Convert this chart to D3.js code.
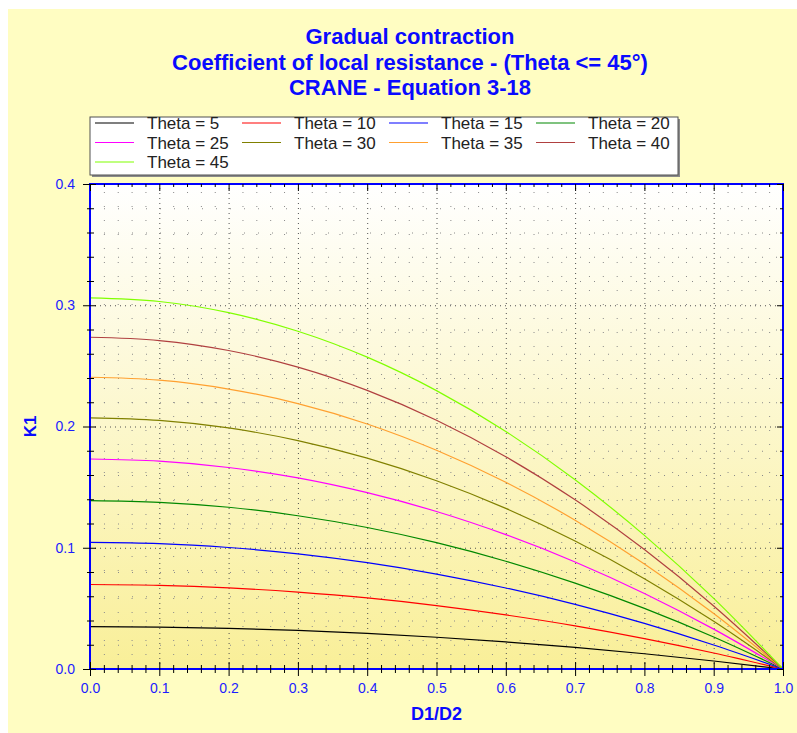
<!DOCTYPE html>
<html>
<head>
<meta charset="utf-8">
<script src="https://cdn.jsdelivr.net/npm/d3@7"></script>
<style>
  body { margin: 0; background: #ffffff; }
  text { font-family: Arial, "Liberation Sans", sans-serif; }
</style>
</head>
<body>
<div id="chart"></div>
<script>
// Chart data: K1 at D1/D2 = 0.0, 0.1, ... 1.0
const dRatio = [0.0, 0.1, 0.2, 0.3, 0.4, 0.5, 0.6, 0.7, 0.8, 0.9, 1.0];
const seriesNames = ["Theta = 5", "Theta = 10", "Theta = 15", "Theta = 20", "Theta = 25",
                     "Theta = 30", "Theta = 35", "Theta = 40", "Theta = 45"];
const k1Theta5  = [0.0349, 0.0345, 0.0335, 0.0318, 0.0293, 0.0262, 0.0223, 0.0178, 0.0126, 0.0066, 0];
const k1Theta10 = [0.0697, 0.0690, 0.0669, 0.0634, 0.0586, 0.0523, 0.0446, 0.0356, 0.0251, 0.0132, 0];
const k1Theta15 = [0.1044, 0.1034, 0.1002, 0.0950, 0.0877, 0.0783, 0.0668, 0.0533, 0.0376, 0.0198, 0];
const k1Theta20 = [0.1389, 0.1375, 0.1334, 0.1264, 0.1167, 0.1042, 0.0889, 0.0708, 0.0500, 0.0264, 0];
const k1Theta25 = [0.1732, 0.1714, 0.1662, 0.1576, 0.1454, 0.1299, 0.1108, 0.0883, 0.0623, 0.0329, 0];
const k1Theta30 = [0.2071, 0.2050, 0.1988, 0.1884, 0.1739, 0.1553, 0.1325, 0.1056, 0.0745, 0.0393, 0];
const k1Theta35 = [0.2406, 0.2382, 0.2309, 0.2189, 0.2021, 0.1804, 0.1540, 0.1227, 0.0866, 0.0457, 0];
const k1Theta40 = [0.2736, 0.2709, 0.2627, 0.2490, 0.2298, 0.2052, 0.1751, 0.1395, 0.0985, 0.0520, 0];
const k1Theta45 = [0.3061, 0.3031, 0.2939, 0.2786, 0.2572, 0.2296, 0.1959, 0.1561, 0.1102, 0.0582, 0];
const seriesValues = [k1Theta5, k1Theta10, k1Theta15, k1Theta20, k1Theta25,
                      k1Theta30, k1Theta35, k1Theta40, k1Theta45];
const seriesColors = ["#000000", "#ff0000", "#0000ff", "#008800", "#ff00ff",
                      "#808000", "#ffa030", "#b04040", "#80ff00"];
const xTicks = [0, 0.1, 0.2, 0.3, 0.4, 0.5, 0.6, 0.7, 0.8, 0.9, 1.0];
const yTicks = [0, 0.1, 0.2, 0.3, 0.4];
const titleLines = ["Gradual contraction",
                    "Coefficient of local resistance - (Theta <= 45\u00b0)",
                    "CRANE - Equation 3-18"];

function drawChart() {
    const W = 797, H = 733;
    const plot = {left: 90, right: 783, top: 184, bottom: 669};
    const pw = plot.right - plot.left, ph = plot.bottom - plot.top;

    const svg = d3.select("#chart").append("svg")
        .attr("width", W).attr("height", H);

    // Panel background
    svg.append("rect").attr("x", 8).attr("y", 9)
        .attr("width", W - 8).attr("height", H - 9)
        .attr("fill", "#fffdc2");

    const defs = svg.append("defs");
    const grad = defs.append("linearGradient").attr("id", "plotBg")
        .attr("x1", 0).attr("y1", 0).attr("x2", 0).attr("y2", 1);
    grad.append("stop").attr("offset", "0%").attr("stop-color", "#ffffff");
    grad.append("stop").attr("offset", "100%").attr("stop-color", "#f9ef98");

    // Title
    svg.append("g").selectAll("text")
        .data(titleLines)
        .enter().append("text")
        .attr("x", 410)
        .attr("y", (d, i) => 44 + i * 25.5)
        .attr("text-anchor", "middle")
        .attr("fill", "#0a0aff")
        .style("font-size", "22px")
        .style("font-weight", "bold")
        .text(d => d);

    const x = d3.scaleLinear().domain([0, 1]).range([plot.left, plot.right]);
    const y = d3.scaleLinear().domain([0, 0.4]).range([plot.bottom, plot.top]);

    const xMinor = d3.range(0, 1.0001, 0.02).filter(v => Math.abs(v * 10 - Math.round(v * 10)) > 1e-6);
    const yMinor = d3.range(0, 0.4001, 0.02).filter(v => Math.abs(v * 10 - Math.round(v * 10)) > 1e-6);

    const g = svg.append("g");

    g.append("rect")
        .attr("x", plot.left).attr("y", plot.top)
        .attr("width", pw).attr("height", ph)
        .attr("fill", "url(#plotBg)");

    // Minor grid (sparse dots)
    const minorGridX = g.append("g")
        .attr("transform", `translate(0,${plot.bottom})`)
        .call(d3.axisBottom(x).tickValues(xMinor).tickSize(-ph).tickFormat(""));
    const minorGridY = g.append("g")
        .attr("transform", `translate(${plot.left},0)`)
        .call(d3.axisLeft(y).tickValues(yMinor).tickSize(-pw).tickFormat(""));
    [minorGridX, minorGridY].forEach(s => {
        s.select(".domain").remove();
        s.selectAll("line").attr("stroke", "#8a8a8a").attr("stroke-dasharray", "1,13");
    });

    // Major grid (dotted)
    const majorGridX = g.append("g")
        .attr("transform", `translate(0,${plot.bottom})`)
        .call(d3.axisBottom(x).tickValues(xTicks).tickSize(-ph).tickFormat(""));
    const majorGridY = g.append("g")
        .attr("transform", `translate(${plot.left},0)`)
        .call(d3.axisLeft(y).tickValues(yTicks).tickSize(-pw).tickFormat(""));
    [majorGridX, majorGridY].forEach(s => {
        s.select(".domain").remove();
        s.selectAll("line").attr("stroke", "#505050").attr("stroke-dasharray", "1,4");
    });

    // Curves
    const line = d3.line()
        .x((d, i) => x(dRatio[i]))
        .y(d => y(d))
        .curve(d3.curveMonotoneX);

    g.append("g").selectAll("path")
        .data(seriesValues)
        .enter().append("path")
        .attr("d", d => line(d))
        .attr("fill", "none")
        .attr("stroke", (d, i) => seriesColors[i])
        .attr("stroke-width", 1.2);

    // Plot frame
    g.append("rect")
        .attr("x", plot.left).attr("y", plot.top)
        .attr("width", pw).attr("height", ph)
        .attr("fill", "none")
        .attr("stroke", "#0000ff")
        .attr("stroke-width", 2);

    // Axis ticks helper
    function ticks(axis, pos, horizontal) {
        const sel = g.append("g")
            .attr("transform", horizontal ? `translate(0,${pos})` : `translate(${pos},0)`)
            .call(axis);
        sel.select(".domain").remove();
        sel.selectAll("line").attr("stroke", "#000000").attr("stroke-width", 1);
        return sel;
    }
    const noLabel = "";

    // Bottom axis
    const xAxis = ticks(d3.axisBottom(x).tickValues(xTicks).tickSize(7).tickPadding(7)
        .tickFormat(d3.format(".1f")), plot.bottom, true);
    ticks(d3.axisTop(x).tickValues(xTicks).tickSize(7).tickFormat(noLabel), plot.bottom, true);
    ticks(d3.axisBottom(x).tickValues(xMinor).tickSize(4).tickFormat(noLabel), plot.bottom, true);
    ticks(d3.axisTop(x).tickValues(xMinor).tickSize(4).tickFormat(noLabel), plot.bottom, true);
    // Top axis (inward)
    ticks(d3.axisBottom(x).tickValues(xTicks).tickSize(7).tickFormat(noLabel), plot.top, true);
    ticks(d3.axisBottom(x).tickValues(xMinor).tickSize(3).tickFormat(noLabel), plot.top, true);

    // Left axis
    const yAxis = ticks(d3.axisLeft(y).tickValues(yTicks).tickSize(7).tickPadding(8)
        .tickFormat(d3.format(".1f")), plot.left, false);
    ticks(d3.axisRight(y).tickValues(yTicks).tickSize(6).tickFormat(noLabel), plot.left, false);
    ticks(d3.axisLeft(y).tickValues(yMinor).tickSize(3).tickFormat(noLabel), plot.left, false);
    ticks(d3.axisRight(y).tickValues(yMinor).tickSize(4).tickFormat(noLabel), plot.left, false);
    // Right axis (inward)
    ticks(d3.axisLeft(y).tickValues(yTicks).tickSize(6).tickFormat(noLabel), plot.right, false);
    ticks(d3.axisLeft(y).tickValues(yMinor).tickSize(3).tickFormat(noLabel), plot.right, false);

    [xAxis, yAxis].forEach(s => {
        s.selectAll("text")
            .attr("fill", "#1c1cff")
            .style("font-size", "14px")
            .style("font-family", "Arial, 'Liberation Sans', sans-serif");
    });

    // Axis titles
    svg.append("text")
        .attr("x", (plot.left + plot.right) / 2)
        .attr("y", 720)
        .attr("text-anchor", "middle")
        .attr("fill", "#0a0aff")
        .style("font-size", "18px")
        .style("font-weight", "bold")
        .text("D1/D2");

    svg.append("text")
        .attr("transform", `translate(36,${(plot.top + plot.bottom) / 2}) rotate(-90)`)
        .attr("text-anchor", "middle")
        .attr("fill", "#0a0aff")
        .style("font-size", "17px")
        .style("font-weight", "bold")
        .text("K1");

    // Legend
    const lg = svg.append("g");
    lg.append("rect").attr("x", 92).attr("y", 119).attr("width", 588).attr("height", 58)
        .attr("fill", "#8a8a8a");
    lg.append("rect").attr("x", 90).attr("y", 117).attr("width", 588).attr("height", 58)
        .attr("fill", "#ffffff").attr("stroke", "#505050").attr("stroke-width", 1);

    const item = lg.selectAll("g.item")
        .data(seriesNames)
        .enter().append("g")
        .attr("class", "item")
        .attr("transform", (d, i) => `translate(${147 + (i % 4) * 147},${123 + Math.floor(i / 4) * 19.5})`);
    item.append("line")
        .attr("x1", -52).attr("x2", -13)
        .attr("stroke", (d, i) => seriesColors[i])
        .attr("stroke-width", 1.2);
    item.append("text")
        .attr("dy", "0.36em")
        .attr("fill", "#222222")
        .style("font-size", "17px")
        .text(d => d);
}

window.addEventListener('DOMContentLoaded', drawChart);
</script>
</body>
</html>
